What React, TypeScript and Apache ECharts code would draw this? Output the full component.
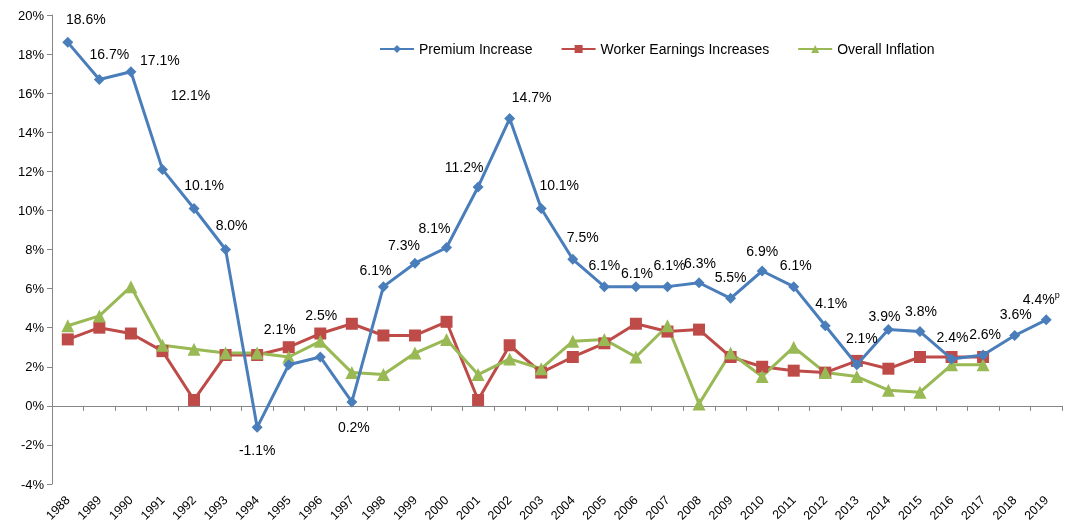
import React, { useEffect, useRef } from "react";
import * as echarts from "echarts";

const years = ["1988","1989","1990","1991","1992","1993","1994","1995","1996","1997","1998","1999","2000","2001","2002","2003","2004","2005","2006","2007","2008","2009","2010","2011","2012","2013","2014","2015","2016","2017","2018","2019"];
const premiumIncrease = [18.6,16.7,17.1,12.1,10.1,8.0,-1.1,2.1,2.5,0.2,6.1,7.3,8.1,11.2,14.7,10.1,7.5,6.1,6.1,6.1,6.3,5.5,6.9,6.1,4.1,2.1,3.9,3.8,2.4,2.6,3.6,4.4];
const workerEarnings = [3.4,4.0,3.7,2.8,0.3,2.6,2.6,3.0,3.7,4.2,3.6,3.6,4.3,0.3,3.1,1.7,2.5,3.2,4.2,3.8,3.9,2.5,2.0,1.8,1.7,2.3,1.9,2.5,2.5,2.5];
const overallInflation = [4.1,4.6,6.1,3.1,2.9,2.7,2.7,2.5,3.3,1.7,1.6,2.7,3.4,1.6,2.4,1.9,3.3,3.4,2.5,4.1,0.1,2.7,1.5,3.0,1.7,1.5,0.8,0.7,2.1,2.1];
const yTicks = { min: -4, max: 20, interval: 2 };

// label placement offsets (px) for premium labels, relative to the point
const labelOffsets: [number, number][] = [
  [18,-23],[10,-25],[29,-12],[28,-74],[10,-23],[6,-25],[0,23],[-9,-36],[1,-42],[2,25],
  [-8,-17],[-11,-18],[-12,-20],[-14,-20],[22,-22],[18,-23],[10,-22],[0,-22],[1,-14],[2,-22],
  [1,-20],[0,-21],[0,-20],[2,-22],[6,-23],[5,-27],[-4,-14],[1,-21],[1,-22],[2,-21],[1,-21],[-5,-21]
];

const FONT = "'Liberation Sans', 'Noto Sans', sans-serif";

export default function App() {
  const ref = useRef<HTMLDivElement>(null);
  useEffect(() => {
    if (!ref.current) return;
    const chart = echarts.init(ref.current, undefined, { renderer: "svg" });
    const premiumData = premiumIncrease.map((v, i) => ({
      value: v,
      label: {
        show: true,
        position: "inside",
        offset: labelOffsets[i],
        formatter: i === premiumIncrease.length - 1 ? `${v.toFixed(1)}%{sup|p}` : `${v.toFixed(1)}%`,
      },
    }));
    chart.setOption({
      animation: false,
      textStyle: { fontFamily: FONT },
      legend: {
        top: 37,
        left: 374,
        itemGap: 28,
        itemWidth: 34,
        itemHeight: 10,
        textStyle: { fontSize: 14, color: "#000", fontFamily: FONT },
        data: ["Premium Increase", "Worker Earnings Increases", "Overall Inflation"],
      },
      grid: { left: 52, right: 3, top: 15, bottom: 47, containLabel: false },
      xAxis: [
        {
          type: "category",
          data: years,
          position: "bottom",
          axisLine: { show: false, onZero: false },
          axisTick: { show: false },
          axisLabel: { rotate: 45, fontSize: 12.5, color: "#000", margin: 14, interval: 0, fontFamily: FONT },
        },
        {
          type: "category",
          data: years,
          position: "bottom",
          axisLine: { show: true, onZero: true, lineStyle: { color: "#868686", width: 1 } },
          axisTick: { show: true, length: 5, inside: false, interval: 0, lineStyle: { color: "#868686" } },
          axisLabel: { show: false, interval: 0 },
        },
      ],
      yAxis: {
        type: "value",
        min: yTicks.min,
        max: yTicks.max,
        interval: yTicks.interval,
        axisLine: { show: true, lineStyle: { color: "#868686" } },
        axisTick: { show: true, length: 5, lineStyle: { color: "#868686" } },
        splitLine: { show: false },
        axisLabel: { formatter: "{value}%", fontSize: 13, color: "#000", fontFamily: FONT },
      },
      series: [
        {
          name: "Premium Increase",
          type: "line",
          data: premiumData,
          symbol: "diamond",
          symbolSize: 11,
          itemStyle: { color: "#4A7EBB" },
          lineStyle: { color: "#4A7EBB", width: 3 },
          label: {
            color: "#000",
            fontSize: 14,
            fontFamily: FONT,
            align: "center",
            verticalAlign: "middle",
            rich: { sup: { fontSize: 9, verticalAlign: "top", padding: [0, 0, 8, 0], color: "#000" } },
          },
          z: 3,
        },
        {
          name: "Worker Earnings Increases",
          type: "line",
          data: workerEarnings,
          symbol: "rect",
          symbolSize: 12,
          itemStyle: { color: "#BE4B48" },
          lineStyle: { color: "#BE4B48", width: 3 },
          z: 2,
        },
        {
          name: "Overall Inflation",
          type: "line",
          data: overallInflation,
          symbol: "triangle",
          symbolSize: 13,
          itemStyle: { color: "#98B954" },
          lineStyle: { color: "#98B954", width: 3 },
          z: 2,
        },
      ],
    });
    return () => chart.dispose();
  }, []);
  return <div ref={ref} style={{ position: "fixed", left: 0, top: 0, width: 1065, height: 531 }} />;
}
